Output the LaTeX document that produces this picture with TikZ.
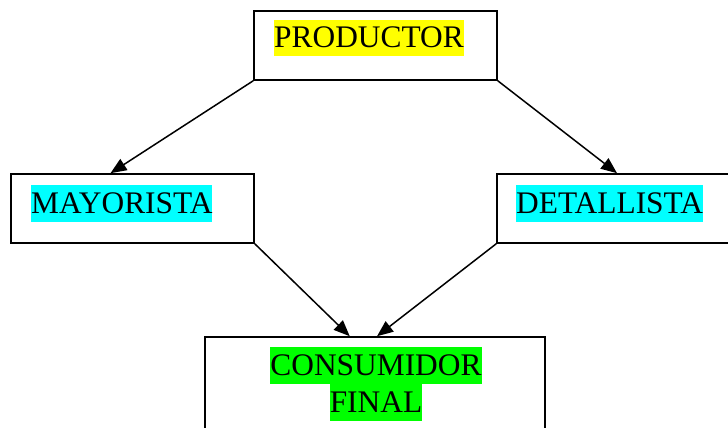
\documentclass[tikz,border=0pt]{standalone}
\usepackage{fontspec}
\setmainfont{Liberation Serif}
\usetikzlibrary{arrows.meta,calc}
\definecolor{hlyellow}{HTML}{FFFF00}
\definecolor{hlcyan}{HTML}{00FFFF}
\definecolor{hlgreen}{HTML}{00FF00}
\begin{document}
\begin{tikzpicture}[x=1pt,y=-1pt,
  box/.style={draw=black,line width=1.6pt,rectangle,inner sep=0pt,minimum width=243pt,minimum height=69pt},
  hl/.style={inner xsep=0pt,inner ysep=0pt,text height=28pt,text depth=8.5pt,font=\fontsize{31.4}{36}\selectfont},
  conn/.style={line width=1.5pt,-{Triangle[length=16pt,width=13pt]}}]
\useasboundingbox (0,0) rectangle (728,428);
\node[box] (prod) at (375.5,45.5) {};
\node[box] (may) at (132.5,208.5) {};
\node[box] (det) at (618.5,208.5) {};
\node[box,minimum width=340pt,minimum height=103pt] (cons) at (375,388.5) {};
\node[hl,fill=hlyellow,anchor=base west] (tprod) at (274,48) {PRODUCTOR};
\node[hl,fill=hlcyan,anchor=base west] (tmay) at (31,213) {MAYORISTA};
\node[hl,fill=hlcyan,anchor=base west] (tdet) at (516,213) {DETALLISTA};
\node[hl,fill=hlgreen,anchor=base] (tcons1) at (376,375) {CONSUMIDOR};
\node[hl,fill=hlgreen,anchor=base] (tcons2) at (376,412) {FINAL};
\draw[conn] (prod.south west) -- ($(may.north west)!0.41!(may.north east)$);
\draw[conn] (prod.south east) -- ($(det.north west)!0.494!(det.north east)$);
\draw[conn] (may.south east) -- ($(cons.north west)!0.426!(cons.north east)$);
\draw[conn] (det.south west) -- ($(cons.north west)!0.506!(cons.north east)$);
\end{tikzpicture}
\end{document}
